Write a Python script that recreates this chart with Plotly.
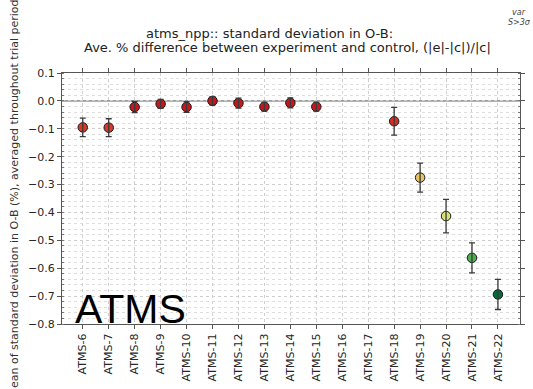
import plotly.graph_objects as go

# Channels and per-channel statistics
channels = ["ATMS-6", "ATMS-7", "ATMS-8", "ATMS-9", "ATMS-10", "ATMS-11", "ATMS-12",
            "ATMS-13", "ATMS-14", "ATMS-15", "ATMS-16", "ATMS-17", "ATMS-18",
            "ATMS-19", "ATMS-20", "ATMS-21", "ATMS-22"]
mean_diff = [-0.095, -0.096, -0.022, -0.011, -0.022, 0.000, -0.008,
             -0.021, -0.007, -0.021, None, None, -0.073,
             -0.275, -0.413, -0.563, -0.694]
err = [0.033, 0.032, 0.020, 0.016, 0.019, 0.015, 0.018,
       0.016, 0.018, 0.016, None, None, 0.050,
       0.052, 0.060, 0.054, 0.054]
marker_colors = ["#d73a26", "#d73a26", "#c8161d", "#c8161d", "#c8161d", "#c8161d", "#c8161d",
                 "#c8161d", "#c8161d", "#c8161d", "#ffffff", "#ffffff", "#d42d24",
                 "#e8c267", "#d9e275", "#4fae4f", "#06693a"]

title_line1 = "atms_npp:: standard deviation in O-B:"
title_line2 = "Ave. % difference between experiment and control, (|e|-|c|)/|c|"
y_title = "Mean of standard deviation in O-B (%), averaged throughout trial period"
y_ticks = [0.1, 0.0, -0.1, -0.2, -0.3, -0.4, -0.5, -0.6, -0.7, -0.8]

idx = [i for i, v in enumerate(mean_diff) if v is not None]
xs = idx
ys = [mean_diff[i] for i in idx]
es = [err[i] for i in idx]
cs = [marker_colors[i] for i in idx]

FONT = "DejaVu Sans"

fig = go.Figure()
# filled circle markers
fig.add_trace(go.Scatter(
    x=xs, y=ys, mode="markers",
    marker=dict(size=9.5, color=cs, line=dict(color="#1a1a1a", width=1)),
    showlegend=False, cliponaxis=False,
))
# error bars drawn on top of the markers
fig.add_trace(go.Scatter(
    x=xs, y=ys, mode="markers",
    marker=dict(size=1, opacity=0),
    error_y=dict(type="data", array=es, visible=True, color="#3a3a3a",
                 thickness=1.3, width=3),
    showlegend=False, cliponaxis=False, hoverinfo="skip",
))

# zero reference line
fig.add_shape(type="line", xref="paper", yref="y", x0=0, x1=1, y0=0, y1=0,
              line=dict(color="#9a9a9a", width=1.6), layer="below")

fig.update_layout(
    width=533, height=389,
    margin=dict(l=62, r=8, t=73, b=62),
    paper_bgcolor="white", plot_bgcolor="white",
    font=dict(family=FONT, size=11, color="#262626"),
    xaxis=dict(
        range=[-0.8, 16.85],
        tickmode="array", tickvals=list(range(len(channels))), ticktext=channels,
        tickangle=-90, tickfont=dict(size=11, family=FONT, color="#262626"),
        showgrid=True, gridcolor="#cfcfcf", griddash="dot", gridwidth=1,
        zeroline=False, showline=True, linecolor="#555555", linewidth=1.3,
        mirror="ticks", ticks="outside", ticklen=4, tickcolor="#555555",
    ),
    yaxis=dict(
        range=[-0.8, 0.1],
        tickmode="array", tickvals=y_ticks,
        ticktext=[f"{v:.1f}".replace("-", "\u2212") for v in y_ticks],
        tickfont=dict(size=11, family=FONT, color="#262626"),
        showgrid=True, gridcolor="#cfcfcf", griddash="dot", gridwidth=1,
        zeroline=False, showline=True, linecolor="#555555", linewidth=1.3,
        mirror="ticks", ticks="outside", ticklen=4, tickcolor="#555555",
        minor=dict(dtick=0.02, tick0=0, showgrid=True, gridcolor="#dedede",
                   griddash="dot", gridwidth=1, ticks="inside", ticklen=2,
                   tickcolor="#777777"),
        title=dict(text=y_title, font=dict(size=11, family=FONT, color="#333333"),
                   standoff=7),
    ),
)

annotations = [
    dict(text=title_line1, xref="paper", yref="paper", x=(272 - 62) / 463, y=1,
         xanchor="center", yanchor="bottom", yshift=30, showarrow=False,
         font=dict(size=13, family=FONT, color="#222222")),
    dict(text=title_line2, xref="paper", yref="paper", x=(290 - 62) / 463, y=1,
         xanchor="center", yanchor="bottom", yshift=16, showarrow=False,
         font=dict(size=13, family=FONT, color="#222222")),
    dict(text="ATMS", xref="paper", yref="paper", x=(73 - 62) / 463, y=0,
         xanchor="left", yanchor="bottom", yshift=-10, showarrow=False,
         font=dict(size=41, family="Liberation Sans", color="#000000")),
    dict(text="<i>var</i>", xref="paper", yref="paper", x=1, y=1,
         xanchor="right", yanchor="bottom", xshift=8, yshift=54, showarrow=False,
         font=dict(size=8, family=FONT, color="#444444")),
    dict(text="<i>S>3\u03c3</i>", xref="paper", yref="paper", x=1, y=1,
         xanchor="right", yanchor="bottom", xshift=13, yshift=44, showarrow=False,
         font=dict(size=8, family=FONT, color="#444444")),
]
fig.update_layout(annotations=annotations)

fig.write_html("out.html")
